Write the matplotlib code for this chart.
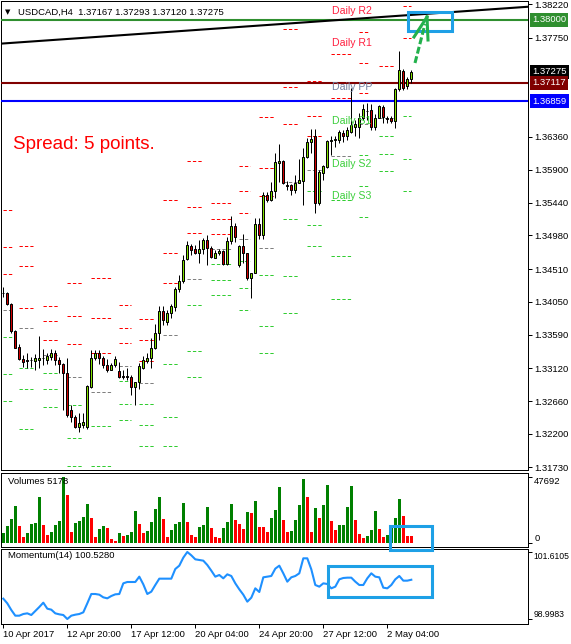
import matplotlib
matplotlib.use("Agg")
import matplotlib.pyplot as plt
from matplotlib.patches import Rectangle
from matplotlib.lines import Line2D

plt.rcParams['font.family'] = ['Liberation Sans', 'DejaVu Sans']
plt.rcParams['lines.scale_dashes'] = False

# ---- data ----
opens = [1.3417, 1.3418, 1.3402, 1.3364, 1.3342, 1.3325, 1.3323, 1.3323, 1.3322, 1.3324,
         1.3326, 1.3323, 1.3328, 1.3333, 1.3324, 1.3318, 1.3306, 1.3254, 1.3244, 1.3229,
         1.3232, 1.3229, 1.3286, 1.3326, 1.3333, 1.3326, 1.3316, 1.3310, 1.3316, 1.3308,
         1.3301, 1.3301, 1.3299, 1.3285, 1.3292, 1.3313, 1.3322, 1.3326, 1.3341, 1.3362,
         1.3392, 1.3377, 1.3389, 1.3398, 1.3423, 1.3434, 1.3465, 1.3483, 1.3479, 1.3474,
         1.3479, 1.3492, 1.3480, 1.3467, 1.3473, 1.3476, 1.3458, 1.3490, 1.3511, 1.3457,
         1.3483, 1.3473, 1.3439, 1.3446, 1.3514, 1.3499, 1.3554, 1.3548, 1.3560, 1.3600,
         1.3602, 1.3569, 1.3569, 1.3561, 1.3572, 1.3575, 1.3608, 1.3629, 1.3637, 1.3543,
         1.3586, 1.3594, 1.3631, 1.3632, 1.3632, 1.3641, 1.3637, 1.3643, 1.3650, 1.3650,
         1.3662, 1.3672, 1.3674, 1.3650, 1.3663, 1.3678, 1.3662, 1.3663, 1.3659, 1.3703,
         1.3729, 1.3707, 1.37167]
highs = [1.3426, 1.3419, 1.3403, 1.3366, 1.3346, 1.3331, 1.3334, 1.3328, 1.3332, 1.3357,
         1.3339, 1.3333, 1.3339, 1.3338, 1.3328, 1.3319, 1.3327, 1.3261, 1.3246, 1.3249,
         1.3249, 1.3288, 1.3338, 1.3337, 1.3338, 1.3329, 1.3325, 1.3319, 1.3329, 1.3321,
         1.3310, 1.3312, 1.3303, 1.3293, 1.3319, 1.3329, 1.3333, 1.3354, 1.3374, 1.3399,
         1.3399, 1.3393, 1.3402, 1.3426, 1.3443, 1.3471, 1.3490, 1.3486, 1.3485, 1.3492,
         1.3495, 1.3499, 1.3483, 1.3478, 1.3479, 1.3478, 1.3496, 1.3525, 1.3515, 1.3485,
         1.3500, 1.3474, 1.3446, 1.3522, 1.3522, 1.3559, 1.3559, 1.3573, 1.3613, 1.3626,
         1.3604, 1.3574, 1.3570, 1.3583, 1.3605, 1.3621, 1.3635, 1.3647, 1.3647, 1.3590,
         1.3597, 1.3632, 1.3637, 1.3637, 1.3646, 1.3646, 1.3650, 1.3705, 1.3660, 1.3669,
         1.3682, 1.3684, 1.3682, 1.3668, 1.3681, 1.3681, 1.3665, 1.3665, 1.3705, 1.3757,
         1.3731, 1.3720, 1.37293]
lows = [1.3412, 1.3401, 1.3361, 1.3340, 1.3323, 1.3314, 1.3312, 1.3314, 1.3309, 1.3313,
        1.3317, 1.3318, 1.3324, 1.3317, 1.3306, 1.3253, 1.3244, 1.3237, 1.3228, 1.3222,
        1.3228, 1.3227, 1.3284, 1.3323, 1.3318, 1.3312, 1.3307, 1.3309, 1.3314, 1.3298,
        1.3297, 1.3295, 1.3275, 1.3261, 1.3283, 1.3311, 1.3319, 1.3313, 1.3339, 1.3351,
        1.3373, 1.3372, 1.3383, 1.3392, 1.3419, 1.3431, 1.3463, 1.3470, 1.3472, 1.3460,
        1.3472, 1.3456, 1.3466, 1.3466, 1.3471, 1.3457, 1.3457, 1.3486, 1.3489, 1.3454,
        1.3459, 1.3436, 1.3410, 1.3445, 1.3493, 1.3493, 1.3545, 1.3546, 1.3550, 1.3573,
        1.3570, 1.3562, 1.3554, 1.3558, 1.3571, 1.3540, 1.3606, 1.3613, 1.3529, 1.3540,
        1.3576, 1.3592, 1.3611, 1.3622, 1.3627, 1.3629, 1.3632, 1.3641, 1.3637, 1.3635,
        1.3660, 1.3660, 1.3646, 1.3646, 1.3662, 1.3656, 1.3655, 1.3655, 1.3648, 1.3700,
        1.3702, 1.3703, 1.37120]
closes = [1.3418, 1.3402, 1.3364, 1.3341, 1.3325, 1.3321, 1.3322, 1.3324, 1.3326, 1.3326,
          1.3327, 1.3329, 1.3333, 1.3323, 1.3318, 1.3306, 1.3246, 1.3243, 1.3229, 1.3235,
          1.3236, 1.3287, 1.3326, 1.3333, 1.3326, 1.3317, 1.3310, 1.3317, 1.3325, 1.3300,
          1.3300, 1.3300, 1.3285, 1.3292, 1.3315, 1.3324, 1.3326, 1.3341, 1.3362, 1.3392,
          1.3380, 1.3389, 1.3399, 1.3423, 1.3434, 1.3464, 1.3485, 1.3478, 1.3474, 1.3479,
          1.3492, 1.3480, 1.3468, 1.3473, 1.3476, 1.3458, 1.3490, 1.3511, 1.3496, 1.3483,
          1.3473, 1.3439, 1.3446, 1.3514, 1.3498, 1.3554, 1.3548, 1.3560, 1.3601, 1.3602,
          1.3572, 1.3568, 1.3561, 1.3572, 1.3576, 1.3608, 1.3629, 1.3633, 1.3543, 1.3587,
          1.3595, 1.3630, 1.3632, 1.3633, 1.3643, 1.3637, 1.3646, 1.3653, 1.3654, 1.3662,
          1.3675, 1.3673, 1.3650, 1.3663, 1.3679, 1.3664, 1.3661, 1.3659, 1.3703, 1.3730,
          1.3704, 1.3717, 1.37275]

volumes = [7700, 12700, 17200, 26800, 12500, 4900, 7700, 13900, 14900, 33400,
           13200, 6100, 8200, 13200, 16300, 47692, 34600, 8200, 14900, 16300,
           18700, 28200, 18000, 4900, 10100, 12500, 10800, 3000, 2000, 7700,
           5400, 6100, 8400, 23400, 13900, 7300, 9200, 15600, 24400, 33400,
           17200, 4900, 9600, 13900, 15100, 29100, 15100, 6100, 4900, 12000,
           13200, 26300, 10800, 4400, 3700, 10800, 15100, 28200, 16800, 13900,
           10300, 22500, 21500, 30600, 12000, 11500, 8000, 18000, 23900, 40100,
           16800, 8400, 8900, 16800, 27500, 46000, 33400, 8200, 25100, 18000,
           27500, 41700, 16100, 9600, 13000, 13200, 26300, 41000, 16800, 6800,
           3700, 5400, 9600, 23200, 10100, 4900, 5800, 11500, 18000, 31500,
           19600, 5400, 5178]

momentum = [99.791, 99.609, 99.349, 99.128, 99.128, 99.193, 99.219, 99.154, 99.310, 99.466,
            99.635, 99.401, 99.362, 99.219, 99.180, 99.154, 98.998, 99.128, 99.167, 99.193,
            99.258, 99.609, 99.973, 99.973, 99.947, 99.843, 99.804, 99.895, 99.960, 99.973,
            100.389, 100.441, 100.441, 100.441, 100.649, 100.350, 99.973, 100.064, 100.324, 100.571,
            100.571, 100.571, 100.571, 100.948, 101.078, 101.390, 101.611, 101.481, 101.325, 101.299,
            101.273, 101.104, 100.883, 100.649, 100.714, 100.584, 100.740, 100.675, 100.389, 100.155,
            99.947, 99.674, 99.830, 100.194, 100.051, 100.623, 100.649, 100.675, 100.961, 101.078,
            100.779, 100.454, 100.623, 100.675, 100.779, 101.364, 101.364, 100.935, 100.324, 100.259,
            100.389, 100.363, 100.194, 100.259, 100.545, 100.597, 100.610, 100.610, 100.454, 100.324,
            100.324, 100.584, 100.779, 100.649, 100.623, 100.220, 100.194, 100.324, 100.545, 100.675,
            100.493, 100.493, 100.528]

# daily pivot levels, one entry per day (bar span where the dashes are drawn)
day_start = [-0.1, 3.9, 9.9, 15.9, 21.9, 28.9, 33.9, 39.9, 45.9, 51.9, 58.9, 63.9, 69.9, 75.9, 81.9, 88.9, 93.9, 99.9]
day_end = [2.2, 7.4, 13.7, 19.7, 26.9, 31.9, 37.7, 43.7, 49.7, 56.9, 61.7, 67.7, 73.7, 79.7, 86.9, 91.2, 97.7, 102.0]
r3 = [1.3534, 1.3483, 1.3399, 1.3431, 1.3438, 1.3400, 1.3381, 1.3547, 1.3602, 1.3543, 1.3596, 1.3664, 1.3787, 1.3714, 1.3833, 1.3783, 1.3736, 1.3883]
r2 = [1.3482, 1.3455, 1.3378, 1.3385, 1.3382, 1.3369, 1.3351, 1.3473, 1.3538, 1.3521, 1.3560, 1.3592, 1.3706, 1.3666, 1.3752, 1.3740, 1.3713, 1.3819]
r1 = [1.3444, 1.3397, 1.3351, 1.3346, 1.3334, 1.3347, 1.3322, 1.3432, 1.3501, 1.3500, 1.3529, 1.3553, 1.3654, 1.3637, 1.3690, 1.3697, 1.3688, 1.3774]
pp = [1.3394, 1.3369, 1.3331, 1.3299, 1.3278, 1.3315, 1.3291, 1.3358, 1.3437, 1.3479, 1.3493, 1.3481, 1.3573, 1.3590, 1.3609, 1.3654, 1.3662, 1.3713]
s1 = [1.3356, 1.3312, 1.3305, 1.3260, 1.3231, 1.3294, 1.3262, 1.3318, 1.3400, 1.3458, 1.3462, 1.3442, 1.3521, 1.3560, 1.3548, 1.3611, 1.3637, 1.3666]
s2 = [1.3304, 1.3283, 1.3283, 1.3214, 1.3175, 1.3262, 1.3232, 1.3243, 1.3336, 1.3435, 1.3425, 1.3371, 1.3441, 1.3513, 1.3469, 1.3567, 1.3612, 1.3605]
s3 = [1.3266, 1.3227, 1.3257, 1.3175, 1.3127, 1.3239, 1.3203, 1.3203, 1.3299, 1.3414, 1.3393, 1.3333, 1.3389, 1.3483, 1.3409, 1.3524, 1.3588, 1.3560]

# horizontal lines and trend line
level_green = 1.38000
level_maroon = 1.37117
level_blue = 1.36859
last_price = 1.37275
trend_x = [0, 102]
trend_y = [1.3767, 1.3807]

price_ticks = [1.38220, 1.37750, 1.36360, 1.35900, 1.35440, 1.34980, 1.34510,
               1.34050, 1.33590, 1.33120, 1.32660, 1.32200, 1.31730]
time_pos = [0, 16, 32, 48, 64, 80, 96]
time_labels = ['10 Apr 2017', '12 Apr 20:00', '17 Apr 12:00', '20 Apr 04:00',
               '24 Apr 20:00', '27 Apr 12:00', '2 May 04:00']

# ---- figure ----
W, H = 571, 644
fig = plt.figure(figsize=(W / 100, H / 100), dpi=100)


def box(x0, y0, x1, y1):
    return [x0 / W, 1 - y1 / H, (x1 - x0) / W, (y1 - y0) / H]


ax = fig.add_axes(box(1, 1, 528, 470))
axv = fig.add_axes(box(1, 473, 528, 547))
axm = fig.add_axes(box(1, 549, 528, 624))

LW = 0.72  # one pixel
xr = (-0.575, 131.175)
for a in (ax, axv, axm):
    a.set_xlim(*xr)
    for s in a.spines.values():
        s.set_linewidth(LW)
        s.set_color('black')
    a.yaxis.tick_right()
    a.tick_params(axis='y', length=3, width=LW, pad=1.5, labelsize=6.8)
    a.set_xticks([])

n = len(opens)
xs = list(range(n))

# pivot dashes
dash = (0, (2.4, 1.5))
for i in range(len(day_start)):
    for vals, col in ((r3, '#ff0000'), (r2, '#ff0000'), (r1, '#ff0000'), (pp, '#808080'),
                      (s1, '#32cd32'), (s2, '#32cd32'), (s3, '#32cd32')):
        ax.plot([day_start[i], day_end[i]], [vals[i], vals[i]], color=col, lw=LW, ls=dash, zorder=2)

# lines
ax.axhline(level_green, color='#2f8f2f', lw=1.5, zorder=3)
ax.axhline(level_maroon, color='#800000', lw=1.5, zorder=3)
ax.axhline(level_blue, color='#0000ff', lw=1.5, zorder=3)
ax.axline((trend_x[0], trend_y[0]), (trend_x[1], trend_y[1]), color='black', lw=1.5, zorder=3)

# candles
ax.vlines(xs, lows, highs, color='black', lw=LW, zorder=4)
bw = 0.55
for i in range(n):
    o, c = opens[i], closes[i]
    if abs(c - o) < 0.00005:
        ax.plot([i - 0.45, i + 0.45], [c, c], color='black', lw=LW, zorder=5)
        continue
    fc = '#80e000' if c > o else '#d00000'
    ax.add_patch(Rectangle((i - bw / 2, min(o, c)), bw, abs(c - o), facecolor=fc,
                           edgecolor='black', lw=LW, zorder=5))

ax.set_ylim(1.31694, 1.38265)
ax.set_yticks(price_ticks)
ax.set_yticklabels(['%.5f' % t for t in price_ticks])

# boxed price labels on the axis
for val, col in ((level_green, '#2f8f2f'), (last_price, 'black'),
                 (level_maroon, '#800000'), (level_blue, '#0000ff')):
    ax.text(1 + 4 / 527, val, '%.5f' % val, transform=ax.get_yaxis_transform(),
            ha='left', va='center', color='white', fontsize=6.8, zorder=10, clip_on=False,
            bbox=dict(boxstyle='square,pad=0.25', fc=col, ec='none'))

# daily labels (current day levels)
lx = 82.2
for txt, val, col in (('Daily R2', r2[-1], '#ff2040'), ('Daily R1', r1[-1], '#ff2040'),
                      ('Daily PP', pp[-1], '#7080a0'), ('Daily S1', s1[-1], '#3ccf3c'),
                      ('Daily S2', s2[-1], '#3ccf3c'), ('Daily S3', s3[-1], '#3ccf3c')):
    ax.text(lx, val, txt, color=col, fontsize=7.6, ha='left', va='top', zorder=6)

# volumes
vcols = ['#008000']
for i in range(1, n):
    vcols.append('#008000' if volumes[i] > volumes[i - 1] else '#ff0000')
axv.bar(xs, volumes, width=0.62, color=vcols)
axv.set_ylim(-2499, 50334)
axv.set_yticks([0, 47692])
axv.set_yticklabels(['0', '47692'])
for lbl, va in zip(axv.get_yticklabels(), ['bottom', 'top']):
    lbl.set_va(va)

# momentum
axm.plot(xs, momentum, color='#1e90ff', lw=1.5)
axm.set_ylim(98.8034, 101.7274)
axm.set_yticks([98.9983, 101.6105])
axm.set_yticklabels(['98.9983', '101.6105'])
axm.tick_params(axis='y', labelsize=6.2, pad=1)
for lbl, va in zip(axm.get_yticklabels(), ['bottom', 'top']):
    lbl.set_va(va)
axm.set_xticks(time_pos)
axm.set_xticklabels(time_labels, fontsize=6.8, ha='left')
axm.tick_params(axis='x', length=3, width=LW, pad=1.5)

# texts
fig.text(5 / W, 1 - 12 / H, '\u25bc', fontsize=5, family='DejaVu Sans', va='center')
fig.text(18 / W, 1 - 12 / H, 'USDCAD,H4  1.37167 1.37293 1.37120 1.37275', fontsize=6.8, va='center')
fig.text(13 / W, 1 - 145 / H, 'Spread: 5 points.', color='red', fontsize=13.5, va='center')
fig.text(8 / W, 1 - 481 / H, 'Volumes 5178', fontsize=6.8, va='center')
fig.text(8 / W, 1 - 556 / H, 'Momentum(14) 100.5280', fontsize=6.8, va='center')

# annotations drawn on top (pixel positions)
def fp(x, y):
    return x / W, 1 - y / H


for x0, y0, x1, y1 in ((408, 12, 452, 31), (390, 526, 432, 550), (328, 566, 432, 597)):
    fig.add_artist(Rectangle(fp(x0, y1), (x1 - x0) / W, (y1 - y0) / H, transform=fig.transFigure,
                             fill=False, edgecolor='#1ea0e6', lw=2.2, zorder=20))

ax_x, ax_y = zip(fp(415, 63), fp(425, 24))
fig.add_artist(Line2D(ax_x, ax_y, transform=fig.transFigure, color='#22b14c', lw=2.2,
                      ls=(0, (5, 2)), zorder=20))
for wx, wy in ((414, 37), (428, 40)):
    hx, hy = zip(fp(427, 17), fp(wx, wy))
    fig.add_artist(Line2D(hx, hy, transform=fig.transFigure, color='#22b14c', lw=2.2, zorder=20))

fig.savefig('out.png', dpi=100)
